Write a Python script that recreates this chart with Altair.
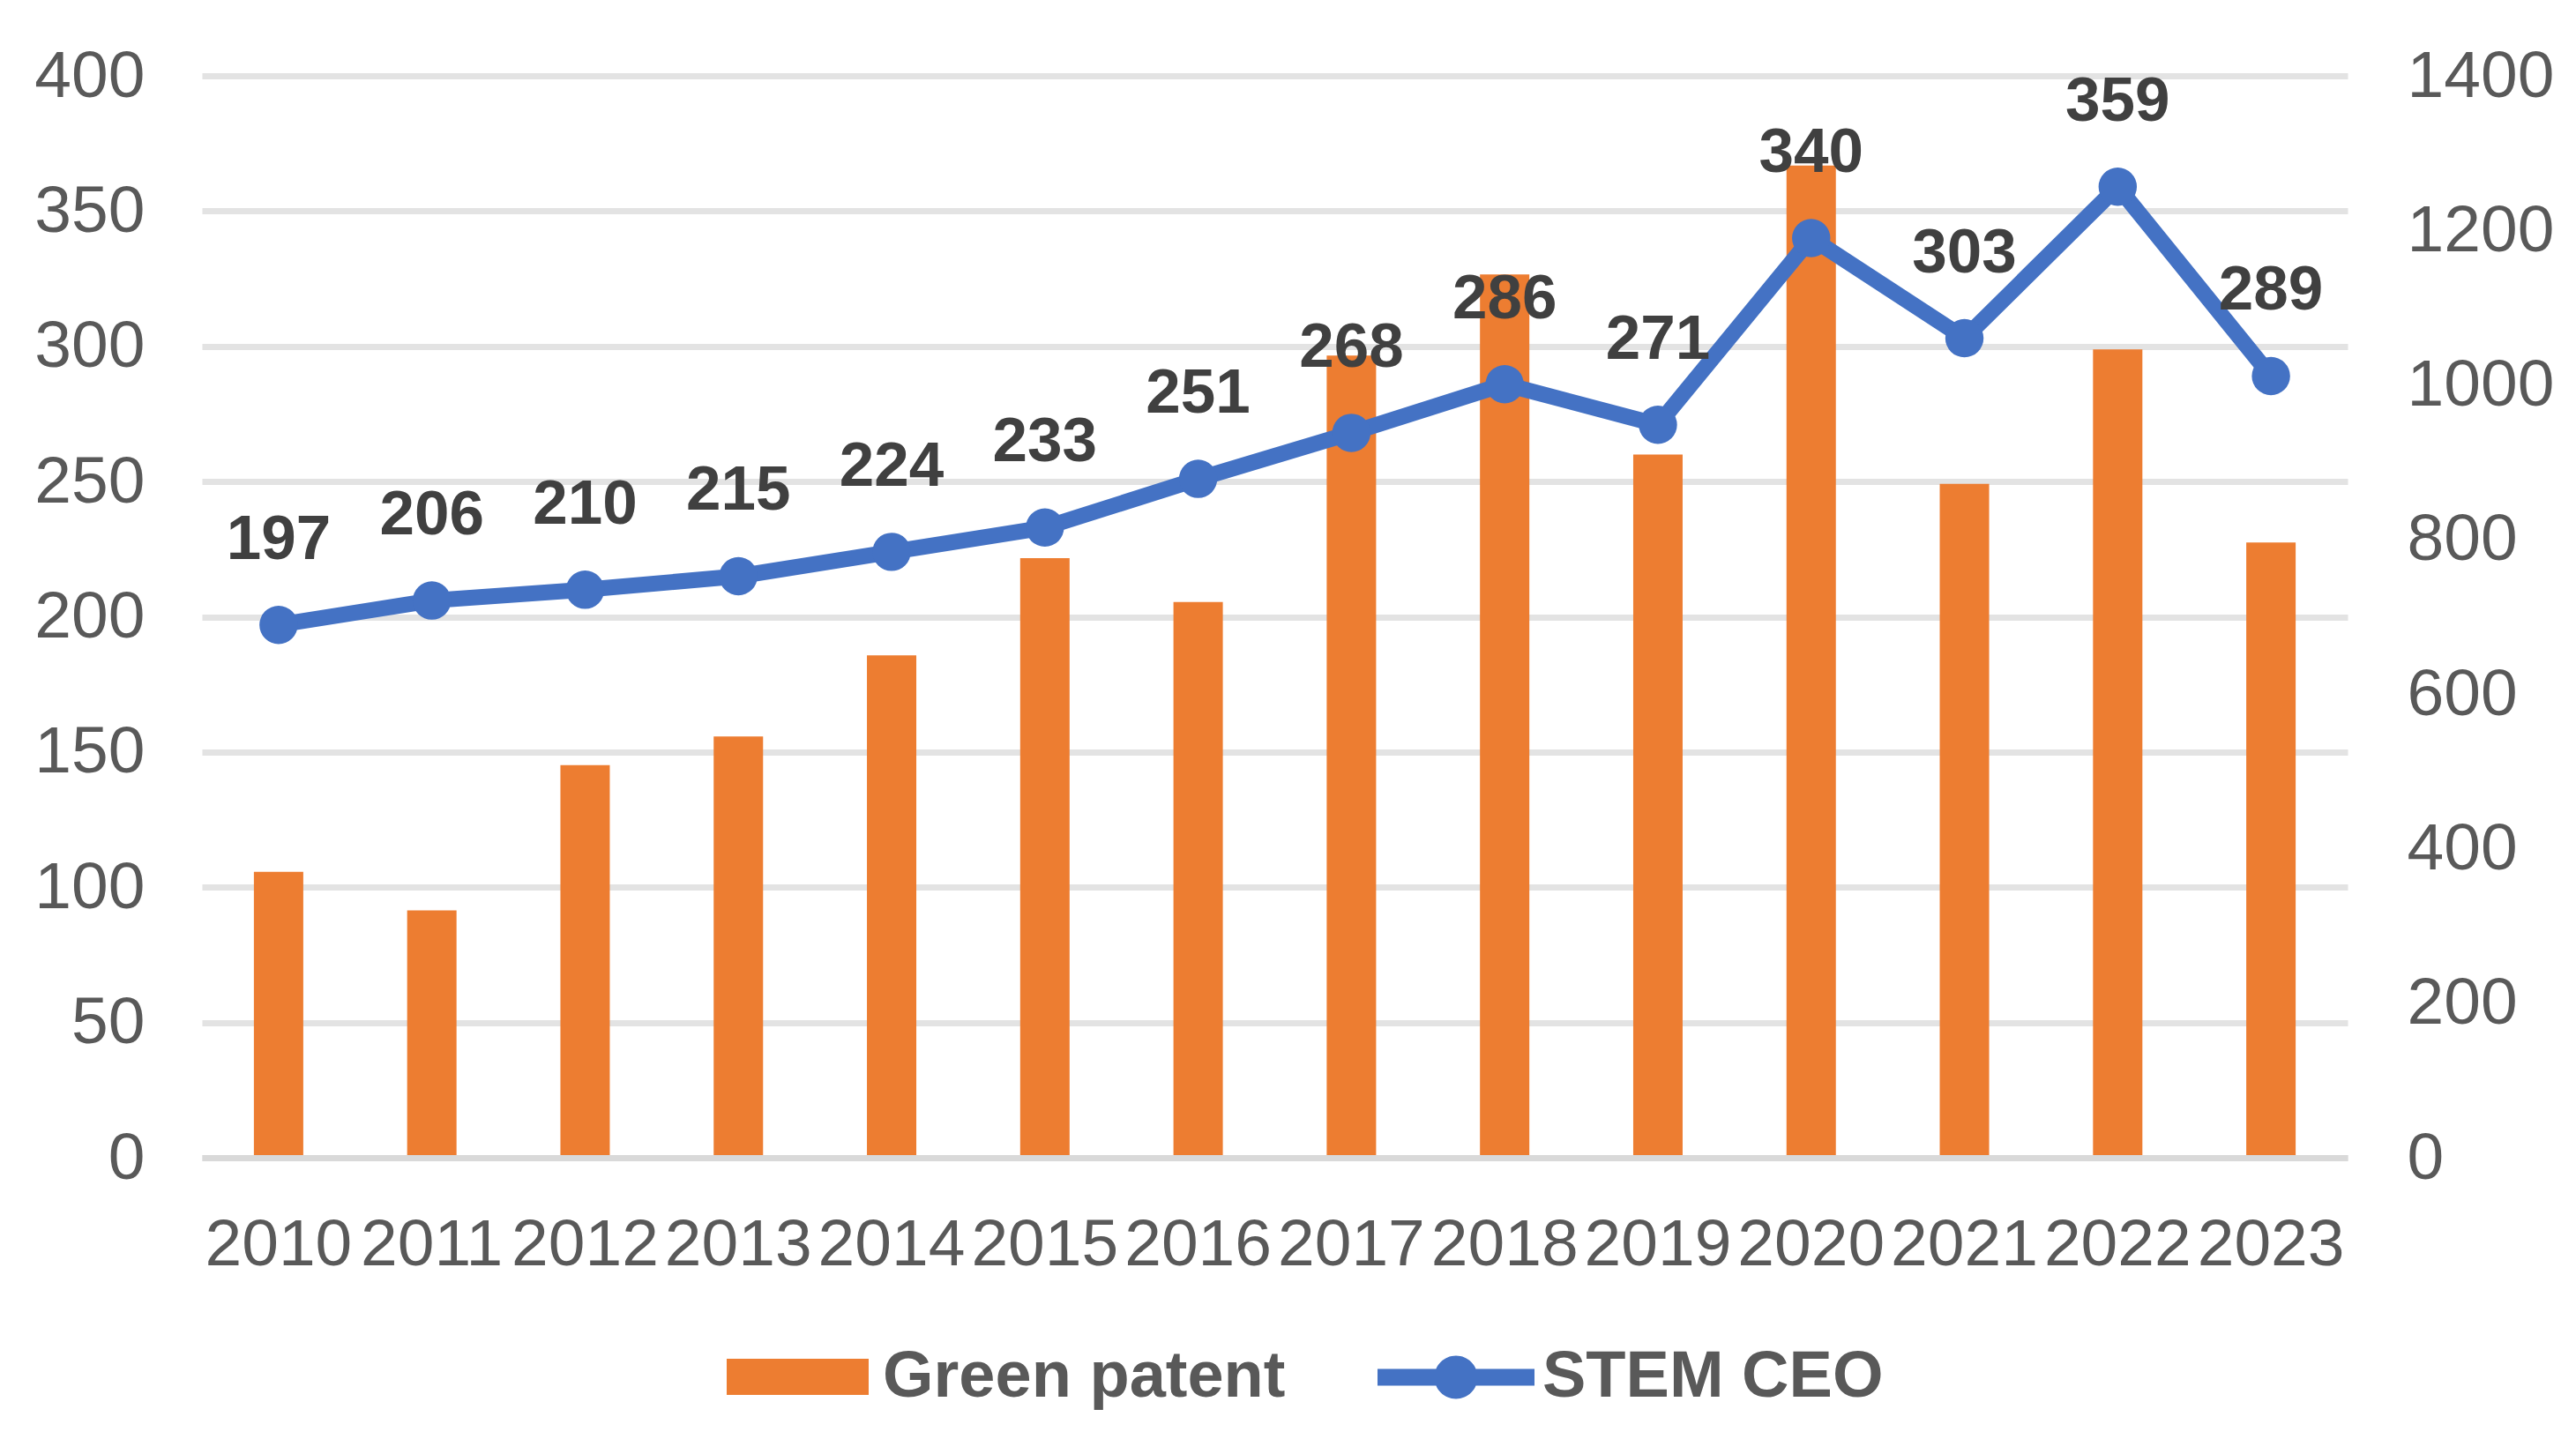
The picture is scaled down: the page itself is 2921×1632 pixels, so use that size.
import pandas as pd
import altair as alt

# values
years = ['2010', '2011', '2012', '2013', '2014', '2015', '2016',
         '2017', '2018', '2019', '2020', '2021', '2022', '2023']
green_patent = [370, 320, 508, 545, 650, 776, 719, 1038, 1143, 910, 1284, 872, 1046, 796]
stem_ceo = [197, 206, 210, 215, 224, 233, 251, 268, 286, 271, 340, 303, 359, 289]
left_ticks = [0, 50, 100, 150, 200, 250, 300, 350, 400]
right_ticks = [0, 200, 400, 600, 800, 1000, 1200, 1400]

FONT = 'Liberation Sans'
ORANGE = '#ED7D31'
BLUE = '#4472C4'

df = pd.DataFrame({'Year': years, 'green': green_patent, 'stem': stem_ceo})
df['bar_series'] = 'Green patent'
df['line_series'] = 'STEM CEO'

x = alt.X('Year:N', sort=years,
          scale=alt.Scale(paddingInner=0, paddingOuter=0),
          axis=alt.Axis(title=None, labelAngle=0, labelFont=FONT, labelFontSize=75,
                        labelColor='#595959', labelPadding=62, ticks=False,
                        domainColor='#d9d9d9', domainWidth=7, labelLimit=400, zindex=1))

y_left = alt.Y('stem:Q', scale=alt.Scale(domain=[0, 400]),
               axis=alt.Axis(orient='left', values=left_ticks, title=None, grid=True,
                             gridColor='#e3e3e3', gridWidth=7, domain=False, ticks=False,
                             labelFont=FONT, labelFontSize=75, labelColor='#595959',
                             labelPadding=65, format='d', labelLimit=400))

y_right = alt.Y('green:Q', scale=alt.Scale(domain=[0, 1400]),
                axis=alt.Axis(orient='right', values=right_ticks, title=None, grid=False,
                              domain=False, ticks=False, labelFont=FONT, labelFontSize=75,
                              labelColor='#595959', labelPadding=67, format='d',
                              labelLimit=400))

bars = alt.Chart(df).mark_bar(size=56).encode(
    x=x,
    y=y_right,
    fill=alt.Fill('bar_series:N',
                  scale=alt.Scale(domain=['Green patent'], range=[ORANGE]),
                  legend=alt.Legend(orient='none', legendX=595, legendY=1395, title=None,
                                    symbolType='M-1,-0.255H1V0.255H-1Z', symbolSize=25921,
                                    symbolStrokeWidth=0, labelFont=FONT, labelFontSize=74,
                                    labelFontWeight='bold', labelColor='#595959',
                                    labelOffset=16, labelLimit=1000, padding=0))
)

line = alt.Chart(df).mark_line(color=BLUE, strokeWidth=18, strokeJoin='round').encode(
    x=x,
    y=y_left
)

points = alt.Chart(df).mark_circle(size=1886, opacity=1).encode(
    x=x,
    y=y_left,
    color=alt.Color('line_series:N',
                    scale=alt.Scale(domain=['STEM CEO'], range=[BLUE]),
                    legend=alt.Legend(orient='none', legendX=1333, legendY=1387, title=None,
                                      symbolType='M-1,-0.107H1V0.107H-1Z M0.275,0A0.275,0.275,0,1,1,-0.275,0A0.275,0.275,0,1,1,0.275,0Z',
                                      symbolSize=31684, symbolStrokeWidth=0,
                                      labelFont=FONT, labelFontSize=74,
                                      labelFontWeight='bold', labelColor='#595959',
                                      labelOffset=9, labelLimit=1000, padding=0))
)

labels = alt.Chart(df).mark_text(dy=-75, fontSize=71, fontWeight='bold', color='#404040',
                                 font=FONT, baseline='alphabetic').encode(
    x=x,
    y=y_left,
    text='stem:Q'
)

chart = alt.layer(
    bars,
    alt.layer(line, points, labels)
).resolve_scale(
    y='independent'
).properties(
    width=2433,
    height=1227,
    padding={'left': 30, 'top': 41, 'right': 5, 'bottom': 5}
).configure_view(
    strokeWidth=0
)

chart.save('out.html', embed_options={'renderer': 'svg', 'actions': False})
